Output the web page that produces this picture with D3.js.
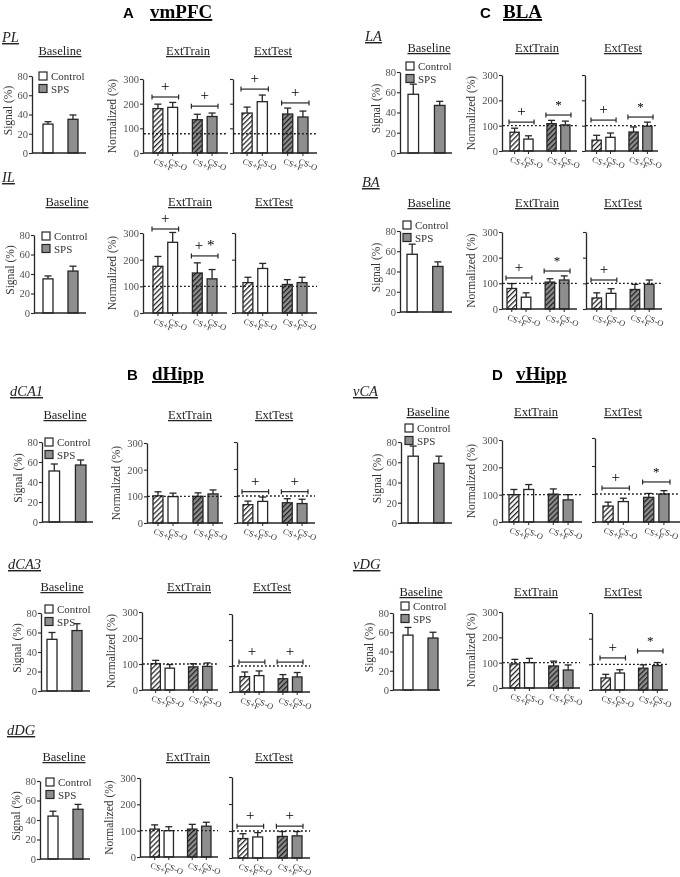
<!DOCTYPE html>
<html><head><meta charset="utf-8">
<script src="https://cdn.jsdelivr.net/npm/d3@7"></script>
<style>
body{margin:0;background:#fff;}
svg{display:block;will-change:transform;}
text{font-family:"Liberation Serif","Times New Roman",serif;-webkit-font-smoothing:antialiased;}
</style></head><body>
<svg id="chart" width="680" height="877"></svg>
<script>
// ---------------- DATA ----------------
const regions = ["PL","IL","dCA1","dCA3","dDG","LA","BA","vCA","vDG"];
const groups = ["Control","SPS"];
const cues = ["CS+F","CS-O"];
const baselineTicks = [0,20,40,60,80];
const normTicks = [0,100,200,300];

// Baseline signal (%) [Control, SPS]
const baselineMean = [[30,35],[35,43],[51,57],[53,62],[44,51],[58,47],[57,45],[66,59],[57,54]];
const baselineErr  = [[2.5,4.5],[3,5],[7,5],[7,7],[5,5],[10,4],[10,4.5],[10,7],[8,6]];

// Normalized (%) [Control CS+F, Control CS-O, SPS CS+F, SPS CS-O]
const trainMean = [[180,185,135,148],[175,265,150,128],[102,99,100,109],[101,84,89,91],[106,100,106,117],
                   [74,47,108,103],[80,46,105,113],[100,119,102,81],[95,100,87,71]];
const trainErr  = [[18,20,22,14],[37,37,38,35],[15,13,13,15],[13,14,12,13],[16,15,18,15],
                   [16,13,13,15],[19,17,13,16],[19,18,19,19],[18,17,19,20]];
const testMean  = [[162,208,158,146],[114,167,107,114],[68,80,75,72],[59,63,51,58],[72,78,80,82],
                   [43,54,75,98],[43,61,76,96],[57,73,88,100],[47,66,85,95]];
const testErr   = [[24,27,24,24],[20,19,18,20],[13,16,15,16],[18,18,16,17],[18,16,18,16],
                   [19,17,20,16],[20,18,20,17],[14,12,14,12],[14,13,13,12]];

// Reference (dotted) level per region
const refLevel = [78,100,100,100,100,100,100,100,100];

// Significance marks per group [Control, SPS] and bracket level (data units)
const sigTrain      = [["+","+"],["+","+ *"],["",""],["",""],["",""],["+","*"],["+","*"],["",""],["",""]];
const sigTrainLevel = [[227,190],[315,214],[0,0],[0,0],[0,0],[114,142],[121,148],[0,0],[0,0]];
const sigTest       = [["+","+"],["",""],["+","+"],["+","+"],["+","+"],["+","*"],["+",""],["+","*"],["+","*"]];
const sigTestLevel  = [[259,203],[0,0],[116,116],[115,115],[118,118],[122,134],[113,0],[121,143],[125,152]];

// ---------------- LAYOUT ----------------
const layout = [
 {sub:[2,42], ty:55, tc:[60,188,273],
  base:{ax:32,ex:86,b0:43,b1:78,y0:153,yt:76}, leg:[39,72],
  train:{ax:143,ex:228,b0:153,b1:217,y0:153,yt:79},
  test:{ax:233,ex:317,b0:242,b1:308,y0:153,yt:79}},
 {sub:[2,182], ty:206, tc:[67,190,274],
  base:{ax:34,ex:86,b0:43,b1:78,y0:313,yt:235}, leg:[42,232],
  train:{ax:143,ex:227,b0:153,b1:217,y0:313,yt:233},
  test:{ax:235,ex:317,b0:243,b1:307,y0:313,yt:233}},
 {sub:[10,396], ty:419, tc:[65,190,274],
  base:{ax:42,ex:93,b0:49,b1:86,y0:522,yt:442}, leg:[45,438],
  train:{ax:147,ex:223,b0:153,b1:218,y0:523,yt:443},
  test:{ax:237,ex:315,b0:243,b1:307,y0:523,yt:442}},
 {sub:[8,569], ty:591, tc:[62,189,272],
  base:{ax:41,ex:90,b0:47,b1:82,y0:691,yt:613}, leg:[45,605],
  train:{ax:142,ex:218,b0:151,b1:212,y0:690,yt:612},
  test:{ax:232,ex:310,b0:240,b1:302,y0:692,yt:614}},
 {sub:[7,735], ty:761, tc:[64,188,274],
  base:{ax:40,ex:90,b0:48,b1:83,y0:859,yt:781}, leg:[46,778],
  train:{ax:140,ex:218,b0:150,b1:211,y0:857,yt:778},
  test:{ax:232,ex:310,b0:238,b1:302,y0:858,yt:777}},
 {sub:[365,41], ty:52, tc:[429,537,623],
  base:{ax:400,ex:452,b0:408,b1:445,y0:153,yt:72}, leg:[406,62],
  train:{ax:502,ex:577,b0:510,b1:570,y0:151,yt:75},
  test:{ax:585,ex:658,b0:592,b1:652,y0:151,yt:75}},
 {sub:[362,187], ty:207, tc:[429,537,623],
  base:{ax:400,ex:452,b0:407,b1:443,y0:312,yt:231}, leg:[403,221],
  train:{ax:502,ex:577,b0:507,b1:569,y0:309,yt:232},
  test:{ax:586,ex:662,b0:592,b1:654,y0:309,yt:232}},
 {sub:[353,396], ty:416, tc:[428,536,623],
  base:{ax:401,ex:452,b0:408,b1:444,y0:523,yt:442}, leg:[405,424],
  train:{ax:502,ex:582,b0:509,b1:573,y0:522,yt:440},
  test:{ax:595,ex:680,b0:603,b1:669,y0:522,yt:438}},
 {sub:[353,569], ty:596, tc:[421,536,623],
  base:{ax:393,ex:440,b0:403,b1:438,y0:690,yt:613}, leg:[401,602],
  train:{ax:502,ex:580,b0:510,b1:573,y0:688,yt:612},
  test:{ax:592,ex:668,b0:601,b1:662,y0:690,yt:613}}
];

const headers = [
 {letter:"A", name:"vmPFC", lx:123, nx:150, y:18},
 {letter:"C", name:"BLA",   lx:480, nx:503, y:18},
 {letter:"B", name:"dHipp", lx:127, nx:152, y:380},
 {letter:"D", name:"vHipp", lx:492, nx:516, y:380}
];

// ---------------- DRAW ----------------
const INK = "#262626", GRAY = "#8e8e8e", TICKC = "#505050";
const svg = d3.select("#chart");
svg.append("rect").attr("width",680).attr("height",877).attr("fill","#ffffff");
const defs = svg.append("defs");
function hatch(id, bg){
  const p = defs.append("pattern").attr("id",id).attr("patternUnits","userSpaceOnUse")
    .attr("width",3.6).attr("height",3.6).attr("patternTransform","rotate(45)");
  p.append("rect").attr("width",3.6).attr("height",3.6).attr("fill",bg);
  p.append("line").attr("x1",0.6).attr("y1",0).attr("x2",0.6).attr("y2",3.6)
    .attr("stroke","#1e1e1e").attr("stroke-width",1.3);
}
hatch("hatchC","#ffffff");
hatch("hatchS",GRAY);

const fillFor = (gi, ci) => ci===0 ? (gi===0 ? "url(#hatchC)" : "url(#hatchS)") : (gi===0 ? "#ffffff" : GRAY);

headers.forEach(h=>{
  svg.append("text").attr("x",h.lx).attr("y",h.y)
    .style("font-family","'Liberation Sans',Arial,sans-serif").attr("font-weight","bold").attr("font-size",15).text(h.letter);
  svg.append("text").attr("x",h.nx).attr("y",h.y)
    .attr("font-weight","bold").attr("font-size",19).attr("text-decoration","underline").text(h.name);
});

function styleAxis(sel){
  sel.selectAll("path.domain").attr("stroke",INK).attr("stroke-width",1.3);
  sel.selectAll(".tick line").attr("stroke",INK).attr("stroke-width",1.1);
  sel.selectAll(".tick text").style("font-family","'Liberation Serif','Times New Roman',serif")
    .attr("font-size",10.5).attr("fill",TICKC);
  sel.attr("font-family",null);
}

function errBars(g, items){
  const e = g.append("g");
  items.forEach(d=>{
    e.append("line").attr("x1",d.x).attr("x2",d.x).attr("y1",d.y0).attr("y2",d.y1).attr("stroke",INK).attr("stroke-width",1.3);
    e.append("line").attr("x1",d.x-3.5).attr("x2",d.x+3.5).attr("y1",d.y1).attr("y2",d.y1).attr("stroke",INK).attr("stroke-width",1.3);
  });
}

function normPanel(g, P, means, errs, ref, sig, sigLev, labelled){
  const y = d3.scaleLinear().domain([0,300]).range([P.y0, P.yt]);
  const xo = d3.scaleBand().domain(groups).range([P.b0, P.b1]).paddingInner(0.375);
  const xi = d3.scaleBand().domain(cues).range([0, xo.bandwidth()]).paddingInner(1/3);
  const ax = d3.axisLeft(y).tickValues(normTicks).tickSize(3).tickSizeOuter(0).tickPadding(1);
  if(!labelled) ax.tickFormat("");
  const ag = g.append("g").attr("transform",`translate(${P.ax},0)`).call(ax);
  styleAxis(ag);
  const bars = [];
  groups.forEach((gr,gi)=>cues.forEach((c,ci)=>{
    const k = gi*2+ci;
    bars.push({gi,ci,x:xo(gr)+xi(c),w:xi.bandwidth(),v:means[k],e:errs[k]});
  }));
  errBars(g, bars.map(b=>({x:b.x+b.w/2, y0:y(b.v), y1:y(b.v+b.e)})));
  g.append("g").selectAll("rect").data(bars).join("rect")
    .attr("x",d=>d.x).attr("y",d=>y(d.v)).attr("width",d=>d.w).attr("height",d=>y(0)-y(d.v))
    .attr("fill",d=>fillFor(d.gi,d.ci)).attr("stroke",INK).attr("stroke-width",1.3);
  g.append("line").attr("x1",P.ax).attr("x2",P.ex).attr("y1",P.y0).attr("y2",P.y0).attr("stroke",INK).attr("stroke-width",1.3);
  bars.forEach(b=>{
    g.append("line").attr("x1",b.x+b.w/2).attr("x2",b.x+b.w/2).attr("y1",P.y0).attr("y2",P.y0+3).attr("stroke",INK).attr("stroke-width",1);
    const cx = b.x+b.w/2-5, cy = P.y0+10.5;
    g.append("text").attr("transform",`translate(${cx},${cy}) rotate(22)`)
      .attr("font-size",8.5).attr("fill","#333").text(cues[b.ci]);
  });
  g.append("line").attr("x1",P.ax+1).attr("x2",P.ex).attr("y1",y(ref)).attr("y2",y(ref))
    .attr("stroke","#1a1a1a").attr("stroke-width",1.3).attr("stroke-dasharray","1.8,2.2");
  groups.forEach((gr,gi)=>{
    if(!sig[gi]) return;
    const x0 = xo(gr)-1, x1 = xo(gr)+xo.bandwidth()+1, yy = y(sigLev[gi]);
    g.append("line").attr("x1",x0).attr("x2",x1).attr("y1",yy).attr("y2",yy).attr("stroke",INK).attr("stroke-width",1.2);
    [x0,x1].forEach(xx=>g.append("line").attr("x1",xx).attr("x2",xx).attr("y1",yy-2.5).attr("y2",yy+2.5).attr("stroke",INK).attr("stroke-width",1.2));
    g.append("text").attr("x",(x0+x1)/2).attr("y",yy-6).attr("text-anchor","middle")
      .attr("font-size",sig[gi]==="*"?13:15).attr("fill","#000").text(sig[gi]);
  });
  return y;
}

layout.forEach((L,i)=>{
  const g = svg.append("g");
  g.append("text").attr("x",L.sub[0]).attr("y",L.sub[1]).attr("font-style","italic").attr("font-size",14.5)
    .attr("text-decoration","underline").attr("fill","#222").text(regions[i]);
  ["Baseline","ExtTrain","ExtTest"].forEach((t,k)=>
    g.append("text").attr("x",L.tc[k]).attr("y",L.ty).attr("text-anchor","middle").attr("font-size",12.5)
      .attr("text-decoration","underline").attr("fill","#222").text(t));

  const B = L.base;
  const yB = d3.scaleLinear().domain([0,80]).range([B.y0,B.yt]);
  const xB = d3.scaleBand().domain(groups).range([B.b0,B.b1]).paddingInner(0.6);
  const ag = g.append("g").attr("transform",`translate(${B.ax},0)`)
    .call(d3.axisLeft(yB).tickValues(baselineTicks).tickSize(3).tickSizeOuter(0).tickPadding(1));
  styleAxis(ag);
  errBars(g, groups.map((gr,gi)=>({x:xB(gr)+xB.bandwidth()/2, y0:yB(baselineMean[i][gi]), y1:yB(baselineMean[i][gi]+baselineErr[i][gi])})));
  g.append("g").selectAll("rect").data(groups).join("rect")
    .attr("x",d=>xB(d)).attr("width",xB.bandwidth())
    .attr("y",(d,gi)=>yB(baselineMean[i][gi])).attr("height",(d,gi)=>yB(0)-yB(baselineMean[i][gi]))
    .attr("fill",(d,gi)=>gi===0?"#ffffff":GRAY).attr("stroke",INK).attr("stroke-width",1.3);
  g.append("line").attr("x1",B.ax).attr("x2",B.ex).attr("y1",B.y0).attr("y2",B.y0).attr("stroke",INK).attr("stroke-width",1.3);
  g.append("text").attr("transform",`translate(${B.ax-24},${(B.y0+B.yt)/2-4}) rotate(-90)`)
    .attr("text-anchor","middle").attr("dominant-baseline","central").attr("font-size",11.5).attr("fill","#333").text("Signal (%)");
  groups.forEach((gr,gi)=>{
    const lx = L.leg[0], ly = L.leg[1] + gi*12.5;
    g.append("rect").attr("x",lx).attr("y",ly).attr("width",8).attr("height",8)
      .attr("fill",gi===0?"#ffffff":GRAY).attr("stroke",INK).attr("stroke-width",1.2);
    g.append("text").attr("x",lx+12).attr("y",ly+8).attr("font-size",11).attr("fill","#333").text(gr);
  });

  normPanel(g, L.train, trainMean[i], trainErr[i], refLevel[i], sigTrain[i], sigTrainLevel[i], true);
  normPanel(g, L.test,  testMean[i],  testErr[i],  refLevel[i], sigTest[i],  sigTestLevel[i],  false);
  const T = L.train;
  g.append("text").attr("transform",`translate(${T.ax-31},${(T.y0+T.yt)/2}) rotate(-90)`)
    .attr("text-anchor","middle").attr("dominant-baseline","central").attr("font-size",11.5).attr("fill","#333").text("Normalized (%)");
});
</script>
</body></html>
